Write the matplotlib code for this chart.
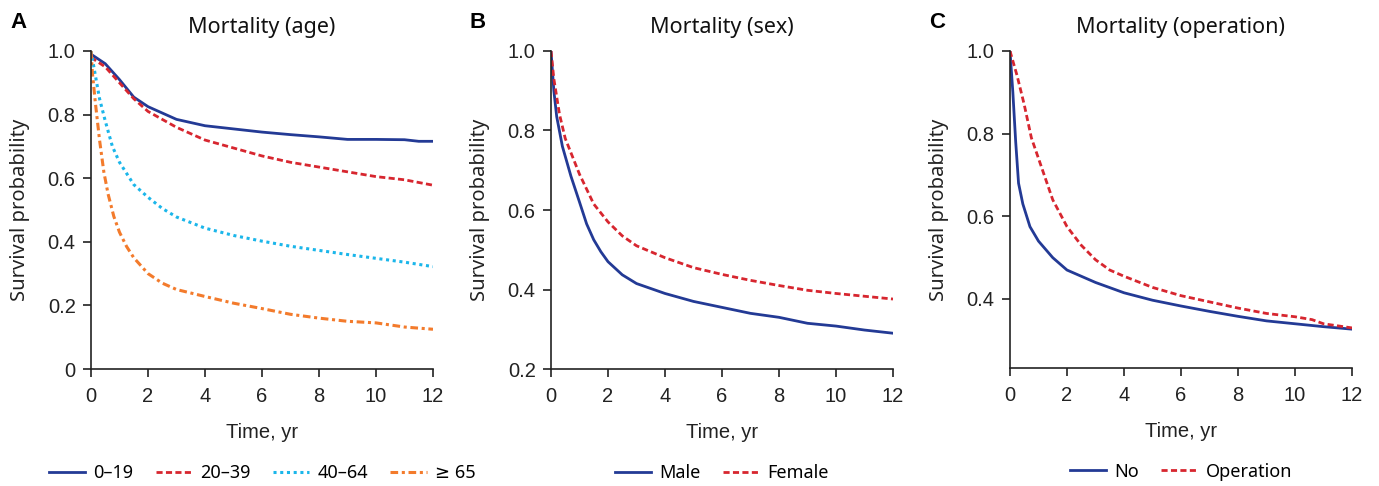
import matplotlib
matplotlib.use("Agg")
import matplotlib.pyplot as plt
from matplotlib.ticker import FuncFormatter

# panel A: age groups
t_a1 = [0, 0.5, 1, 1.5, 2, 2.5, 3, 4, 5, 6, 7, 8, 9, 10, 11, 11.5, 12]
age_0_19 = [0.99, 0.96, 0.91, 0.855, 0.825, 0.805, 0.785, 0.765, 0.755, 0.745, 0.737, 0.73, 0.722, 0.722, 0.721, 0.716, 0.716]
t_a2 = [0, 0.5, 1, 1.5, 2, 3, 4, 5, 6, 7, 8, 9, 10, 11, 12]
age_20_39 = [0.98, 0.95, 0.9, 0.85, 0.81, 0.76, 0.72, 0.695, 0.67, 0.65, 0.635, 0.62, 0.605, 0.595, 0.578]
t_a3 = [0, 0.1, 0.3, 0.5, 0.75, 1, 1.5, 2, 2.5, 3, 4, 5, 6, 7, 8, 9, 10, 11, 12]
age_40_64 = [1.0, 0.95, 0.85, 0.78, 0.7, 0.65, 0.58, 0.54, 0.505, 0.478, 0.443, 0.42, 0.402, 0.386, 0.373, 0.36, 0.348, 0.336, 0.322]
t_a4 = [0, 0.05, 0.15, 0.3, 0.45, 0.6, 0.8, 1.0, 1.25, 1.5, 2, 2.5, 3, 4, 5, 6, 7, 8, 9, 10, 11, 12]
age_65 = [1.0, 0.93, 0.84, 0.72, 0.62, 0.55, 0.48, 0.43, 0.385, 0.35, 0.30, 0.27, 0.25, 0.228, 0.207, 0.19, 0.172, 0.16, 0.15, 0.145, 0.132, 0.125]

# panel B: sex
t_m = [0, 0.1, 0.2, 0.4, 0.7, 1.0, 1.25, 1.5, 1.75, 2, 2.5, 3, 4, 5, 6, 7, 8, 9, 10, 11, 12]
male = [1.0, 0.9, 0.835, 0.76, 0.685, 0.62, 0.565, 0.525, 0.495, 0.47, 0.437, 0.415, 0.39, 0.37, 0.355, 0.34, 0.33, 0.315, 0.308, 0.298, 0.29]
t_f = [0, 0.1, 0.3, 0.5, 1.0, 1.5, 2, 2.5, 3, 4, 5, 6, 7, 8, 9, 10, 11, 12]
female = [1.0, 0.93, 0.84, 0.78, 0.69, 0.615, 0.57, 0.535, 0.51, 0.48, 0.455, 0.438, 0.423, 0.41, 0.398, 0.39, 0.383, 0.376]

# panel C: operation
t_no = [0, 0.1, 0.2, 0.3, 0.45, 0.7, 1.0, 1.5, 2, 3, 4, 5, 6, 7, 8, 9, 10, 11, 12]
no_op = [1.0, 0.9, 0.78, 0.68, 0.63, 0.575, 0.54, 0.5, 0.47, 0.44, 0.415, 0.397, 0.383, 0.37, 0.358, 0.347, 0.34, 0.333, 0.327]
t_op = [0, 0.25, 0.5, 0.75, 1.0, 1.5, 2, 2.5, 3, 3.5, 4, 5, 6, 7, 8, 9, 10, 10.6, 11, 12]
operation = [1.0, 0.94, 0.87, 0.79, 0.74, 0.64, 0.575, 0.53, 0.495, 0.47, 0.455, 0.428, 0.408, 0.393, 0.378, 0.365, 0.357, 0.35, 0.34, 0.33]

BLUE = '#233a95'
RED = '#d7262f'
CYAN = '#1bb6ea'
ORANGE = '#f37b2c'

TXT = ['Noto Sans', 'DejaVu Sans']
NUM = 'Liberation Sans'

fig = plt.figure(figsize=(13.79, 4.86), dpi=100)
W, H = 1379, 486


def make_ax(left_px, right_px, top_px=51, bottom_px=369):
    return fig.add_axes([left_px / W, 1 - bottom_px / H, (right_px - left_px) / W, (bottom_px - top_px) / H])


def style(ax, ylim, yticks, letter, title):
    ax.set_xlim(0, 12)
    ax.set_ylim(*ylim)
    ax.set_xticks(range(0, 13, 2))
    ax.set_yticks(yticks)
    ax.yaxis.set_major_formatter(FuncFormatter(lambda v, p: '0' if v == 0 else '%.1f' % v))
    for s in ['top', 'right']:
        ax.spines[s].set_visible(False)
    for s in ['left', 'bottom']:
        ax.spines[s].set_linewidth(1.2)
        ax.spines[s].set_color('#222222')
    ax.tick_params(direction='out', length=6, width=1.2, color='#222222', labelsize=14.5)
    ax.tick_params(axis='x', pad=7)
    ax.tick_params(axis='y', pad=5)
    for lab in ax.get_xticklabels() + ax.get_yticklabels():
        lab.set_fontfamily(NUM)
        lab.set_color('#222222')
    ax.set_xlabel('Time, yr', fontsize=14.5, family=NUM, labelpad=12, color='#222222')
    ax.set_ylabel('Survival probability', fontsize=14.5, family=TXT, labelpad=13, color='#222222')
    ax.set_title(title, fontsize=15.5, family=TXT, pad=13, color='#111111')
    ax.text(-0.237, 1.091, letter, transform=ax.transAxes, fontsize=16, fontweight='bold',
            family=NUM, va='center', ha='left')


def legend(ax):
    ax.legend(loc='center', bbox_to_anchor=(0.5, -0.327), ncol=4, frameon=False,
              prop={'family': TXT, 'size': 13}, handlelength=2.0, columnspacing=1.25,
              handletextpad=0.45)


axA = make_ax(91, 433)
axA.plot(t_a1, age_0_19, color=BLUE, lw=2.0, label='0–19')
axA.plot(t_a2, age_20_39, color=RED, lw=2.0, ls=(0, (2.2, 1.2)), label='20–39')
axA.plot(t_a3, age_40_64, color=CYAN, lw=2.2, ls=(0, (1, 1.2)), label='40–64')
axA.plot(t_a4, age_65, color=ORANGE, lw=2.2, ls=(0, (2.5, 1.2, 1, 1.2)), label='≥ 65')
style(axA, (0, 1.0), [0, 0.2, 0.4, 0.6, 0.8, 1.0], 'A', 'Mortality (age)')
legend(axA)

axB = make_ax(551, 893)
axB.plot(t_m, male, color=BLUE, lw=2.0, label='Male')
axB.plot(t_f, female, color=RED, lw=2.0, ls=(0, (2.2, 1.2)), label='Female')
style(axB, (0.2, 1.0), [0.2, 0.4, 0.6, 0.8, 1.0], 'B', 'Mortality (sex)')
legend(axB)

axC = make_ax(1010, 1352, bottom_px=368)
axC.plot(t_no, no_op, color=BLUE, lw=2.0, label='No')
axC.plot(t_op, operation, color=RED, lw=2.0, ls=(0, (2.2, 1.2)), label='Operation')
style(axC, (0.233, 1.0), [0.4, 0.6, 0.8, 1.0], 'C', 'Mortality (operation)')
legend(axC)

fig.savefig('out.png', dpi=100)
